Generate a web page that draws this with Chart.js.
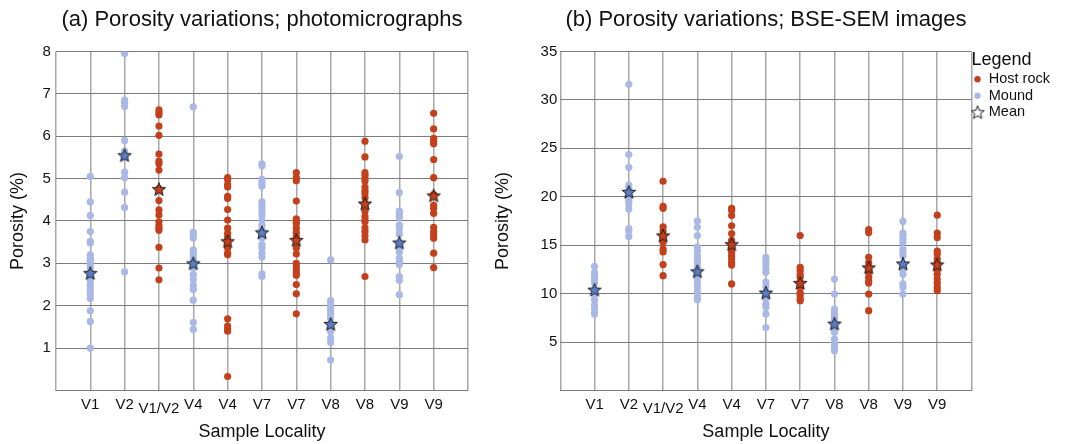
<!DOCTYPE html>
<html>
<head>
<meta charset="utf-8">
<script src="https://cdn.jsdelivr.net/npm/chart.js@4"></script>
<style>
  body { margin: 0; background: #fff; }
  #wrapA { position: absolute; left: 0; top: 0; width: 490px; height: 444px; }
  #wrapB { position: absolute; left: 485px; top: 0; width: 587px; height: 444px; }
</style>
</head>
<body>
<div id="wrapA"><canvas id="chartA" width="490" height="444"></canvas></div>
<div id="wrapB"><canvas id="chartB" width="587" height="444"></canvas></div>
<script>
// sample localities along the x axis and which group each column belongs to
var categories = ["V1", "V2", "V1/V2", "V4", "V4", "V7", "V7", "V8", "V8", "V9", "V9"];
var groups = ["Mound", "Mound", "Host rock", "Mound", "Host rock", "Mound", "Host rock", "Mound", "Host rock", "Mound", "Host rock"];

// (a) photomicrographs, porosity %
var photoValues = [
  [5.05, 4.45, 4.13, 3.75, 3.52, 3.48, 3.2, 3.12, 3.05, 2.97, 2.9, 2.8, 2.69, 2.6, 2.5, 2.42, 2.34, 2.26, 2.17, 1.88, 1.63, 1.0], //V1
  [7.95, 6.85, 6.8, 6.7, 5.9, 5.65, 5.5, 5.15, 5.02, 4.68, 4.32, 2.8], //V2
  [8.07, 6.62, 6.56, 6.5, 6.24, 6.02, 5.58, 5.41, 5.35, 5.2, 4.76, 4.48, 4.26, 4.14, 3.98, 3.89, 3.83, 3.78, 3.38, 2.89, 2.61], //V1/V2
  [6.69, 3.73, 3.65, 3.6, 3.32, 3.25, 3.18, 3.1, 3.0, 2.9, 2.74, 2.62, 2.48, 2.38, 2.13, 1.61, 1.44], //V4 mound
  [5.02, 4.97, 4.86, 4.8, 4.58, 4.53, 4.27, 4.02, 3.83, 3.71, 3.63, 3.55, 3.5, 3.36, 3.24, 3.2, 1.69, 1.52, 1.45, 1.4, 0.33], //V4 host
  [5.35, 5.3, 4.98, 4.88, 4.82, 4.45, 4.37, 4.3, 4.22, 4.14, 4.02, 3.9, 3.8, 3.73, 3.6, 3.44, 3.36, 3.24, 3.15, 2.75, 2.69], //V7 mound
  [5.14, 5.02, 4.95, 4.47, 4.05, 3.97, 3.94, 3.83, 3.73, 3.63, 3.55, 3.36, 3.22, 3.0, 2.93, 2.85, 2.77, 2.72, 2.5, 2.28, 1.81], //V7 host
  [3.08, 2.12, 2.03, 1.95, 1.88, 1.8, 1.71, 1.57, 1.48, 1.39, 1.24, 1.13, 0.72], //V8 mound
  [5.88, 5.51, 5.14, 5.08, 5.0, 4.94, 4.8, 4.72, 4.65, 4.55, 4.41, 4.22, 4.1, 4.02, 3.98, 3.84, 3.75, 3.65, 3.55, 2.69], //V8 host
  [5.52, 4.67, 4.23, 4.16, 4.08, 3.9, 3.81, 3.69, 3.49, 3.36, 3.26, 3.12, 3.04, 2.97, 2.69, 2.6, 2.26], //V9 mound
  [6.54, 6.17, 5.95, 5.88, 5.82, 5.45, 5.02, 4.62, 4.37, 4.3, 4.18, 3.85, 3.75, 3.67, 3.59, 3.24, 2.9] //V9 host
];
var photoMeans = [2.77, 5.55, 4.75, 3.0, 3.52, 3.73, 3.55, 1.57, 4.41, 3.49, 4.6];

// (b) BSE-SEM images, porosity %
var semValues = [
  [12.82, 12.2, 11.85, 11.5, 11.1, 10.4, 9.96, 9.37, 8.82, 8.4, 7.9], //V1
  [31.6, 24.35, 23.04, 21.2, 20.9, 20.5, 19.96, 19.6, 19.26, 18.7, 16.7, 16.5, 15.9], //V2
  [21.6, 19.0, 18.8, 16.9, 16.5, 16.0, 15.3, 14.6, 14.3, 13.0, 11.85], //V1/V2
  [17.5, 16.85, 16.0, 14.8, 14.4, 13.9, 13.6, 13.2, 12.8, 12.26, 11.7, 11.2, 10.7, 10.2, 9.7, 9.37], //V4 mound
  [18.8, 18.57, 18.05, 17.0, 16.2, 15.5, 15.1, 14.8, 14.3, 13.9, 13.6, 13.2, 12.95, 11.0], //V4 host
  [13.75, 13.4, 13.05, 12.6, 12.2, 11.2, 10.7, 10.13, 9.45, 8.9, 8.6, 7.9, 6.5], //V7 mound
  [16.0, 12.7, 12.4, 12.0, 11.7, 11.1, 10.7, 10.1, 9.8, 9.45, 9.27], //V7 host
  [11.5, 9.96, 8.4, 8.06, 7.7, 7.4, 6.9, 6.5, 6.0, 5.3, 4.8, 4.45, 4.1], //V8 mound
  [16.6, 16.3, 13.75, 13.2, 12.7, 12.26, 11.7, 11.3, 11.1, 9.96, 8.24], //V8 host
  [17.46, 16.25, 16.0, 15.6, 15.3, 14.6, 14.26, 13.9, 13.05, 12.5, 12.0, 11.0, 10.65, 9.96], //V9 mound
  [18.1, 16.25, 15.8, 14.4, 14.1, 13.6, 13.2, 12.95, 12.5, 12.0, 11.5, 11.1, 10.65, 10.3] //V9 host
];
var semMeans = [10.4, 20.5, 16.0, 12.3, 15.1, 10.1, 11.1, 6.9, 12.7, 13.1, 13.0];

var hostColor = "#c4401c";
var moundColor = "#a9b8e4";
var FONT = "'Liberation Sans', Arial, sans-serif";

function makeStar(fill) {
  var c = document.createElement("canvas");
  c.width = 16; c.height = 16;
  var g = c.getContext("2d");
  g.beginPath();
  for (var i = 0; i < 10; i++) {
    var r = i % 2 === 0 ? 7 : 3;
    var a = -Math.PI / 2 + i * Math.PI / 5;
    var px = 8 + r * Math.cos(a), py = 8.6 + r * Math.sin(a);
    if (i === 0) g.moveTo(px, py); else g.lineTo(px, py);
  }
  g.closePath();
  g.fillStyle = fill;
  g.fill();
  g.lineWidth = 1;
  g.strokeStyle = "#1a1a1a";
  g.stroke();
  return c;
}
var blueStar = makeStar("#5a7ec6");
var redStar = makeStar(hostColor);
var whiteStar = makeStar("#ffffff");

function points(values, group) {
  var out = [];
  values.forEach(function (col, i) {
    if (groups[i] !== group) return;
    col.forEach(function (v) { out.push({ x: i + 1, y: v }); });
  });
  return out;
}
function meanPoints(means, group) {
  var out = [];
  means.forEach(function (v, i) {
    if (groups[i] === group) out.push({ x: i + 1, y: v });
  });
  return out;
}

function buildDatasets(values, means) {
  return [
    { label: "Mean mound", data: meanPoints(means, "Mound"), pointStyle: blueStar, order: 0 },
    { label: "Mean host", data: meanPoints(means, "Host rock"), pointStyle: redStar, order: 0 },
    { label: "Mound", data: points(values, "Mound"), pointRadius: 3.6, backgroundColor: moundColor, borderColor: moundColor, borderWidth: 0, order: 1 },
    { label: "Host rock", data: points(values, "Host rock"), pointRadius: 3.6, backgroundColor: hostColor, borderColor: hostColor, borderWidth: 0, order: 1 }
  ];
}

function buildOptions(title, yMax, yStep, yTitlePad, tickPad, withLegend) {
  return {
    responsive: false,
    animation: false,
    layout: { padding: withLegend ? { left: 3, right: 12, top: 7, bottom: 0 } : { left: 3, right: 22, top: 7, bottom: 0 } },
    plugins: {
      title: {
        display: true, text: title, fullSize: false, color: "#111",
        font: { family: FONT, size: 22, weight: "normal" },
        padding: { top: 0, bottom: 18 }
      },
      tooltip: { enabled: false },
      legend: withLegend ? {
        display: true, position: "right", align: "start", fullSize: true,
        title: { display: true, text: "Legend", color: "#111", position: "start",
                 font: { family: FONT, size: 18, lineHeight: 1 }, padding: { top: 44, bottom: 1 } },
        labels: {
          usePointStyle: true, boxWidth: 8, boxHeight: 4.5, padding: 2, color: "#111",
          font: { family: FONT, size: 14.5 },
          generateLabels: function () {
            return [
              { text: "Host rock", pointStyle: "circle", fillStyle: hostColor, strokeStyle: hostColor, lineWidth: 0, fontColor: "#111" },
              { text: "Mound", pointStyle: "circle", fillStyle: moundColor, strokeStyle: moundColor, lineWidth: 0, fontColor: "#111" },
              { text: "Mean", pointStyle: whiteStar, fillStyle: "#fff", strokeStyle: "#111", lineWidth: 0, fontColor: "#111" }
            ];
          }
        }
      } : { display: false }
    },
    scales: {
      x: {
        type: "linear", min: 0, max: 12,
        grid: { color: "#a8a8a8", lineWidth: 1.5, drawTicks: false },
        border: { display: false },
        ticks: {
          stepSize: 1, padding: 11.75, color: "#111", autoSkip: false, maxRotation: 0,
          font: { family: FONT, size: 15, lineHeight: 0.3 },
          callback: function (v) {
            if (v < 1 || v > categories.length) return "";
            var lab = categories[v - 1];
            return lab === "V1/V2" ? ["", lab] : lab;
          }
        },
        title: { display: true, text: "Sample Locality", color: "#111",
                 font: { family: FONT, size: 18, lineHeight: 1 }, padding: { top: 0, bottom: 3 } }
      },
      y: {
        min: 0, max: yMax,
        grid: { color: "#7c7c7c", lineWidth: 1, drawTicks: false },
        border: { display: false },
        ticks: {
          stepSize: yStep, padding: tickPad, color: "#111",
          font: { family: FONT, size: 15 },
          callback: function (v) { return v === 0 ? "" : v; }
        },
        title: { display: true, text: "Porosity (%)", color: "#111",
                 font: { family: FONT, size: 18 }, padding: { top: 4, bottom: yTitlePad } }
      }
    }
  };
}

new Chart(document.getElementById("chartA").getContext("2d"), {
  type: "scatter",
  data: { datasets: buildDatasets(photoValues, photoMeans) },
  options: buildOptions("(a) Porosity variations; photomicrographs", 8, 1, 9, 5, false)
});

new Chart(document.getElementById("chartB").getContext("2d"), {
  type: "scatter",
  data: { datasets: buildDatasets(semValues, semMeans) },
  options: buildOptions("(b) Porosity variations; BSE-SEM images", 35, 5, 24, 3, true)
});
</script>
</body>
</html>
